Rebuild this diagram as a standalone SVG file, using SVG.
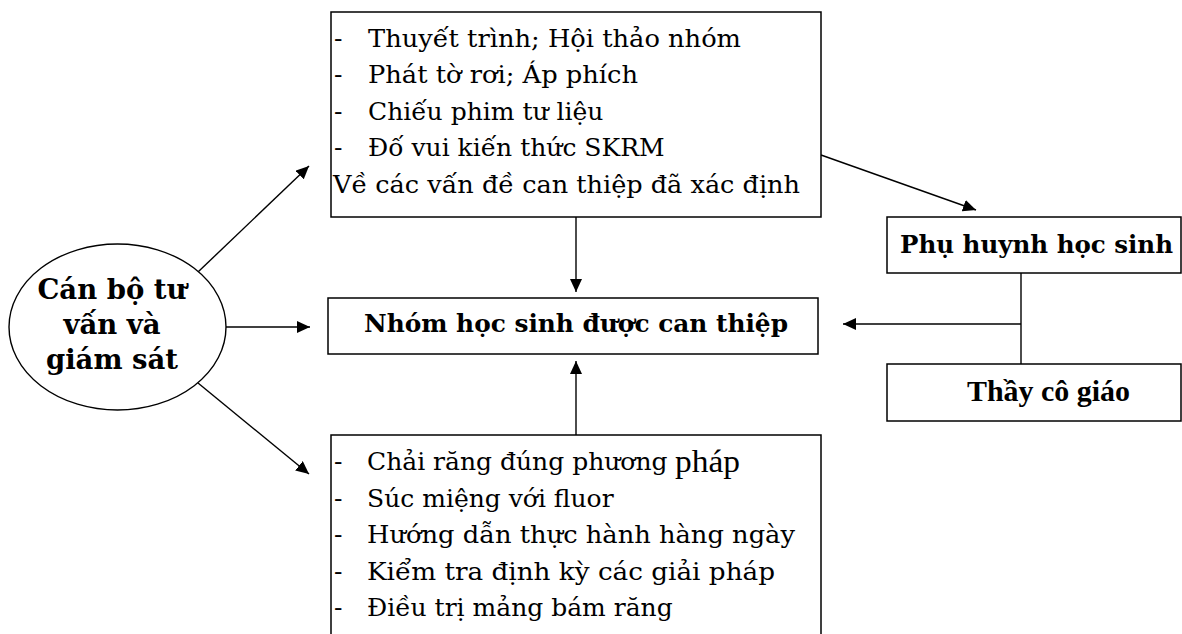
<svg xmlns="http://www.w3.org/2000/svg" width="1182" height="634" viewBox="0 0 1182 634">
<style>
.box{fill:#fff;stroke:#000;stroke-width:1.5}
.t{font-family:"DejaVu Serif","Liberation Serif",serif;font-size:25px;fill:#000}
.b{font-family:"DejaVu Serif","Liberation Serif",serif;font-size:24px;font-weight:bold;fill:#000}
.c{font-family:"Liberation Serif",serif;font-size:30px;font-weight:bold;fill:#000}
.p{font-family:"Liberation Serif",serif;font-size:32px;font-weight:normal;fill:#000}
.ln{fill:none;stroke:#000;stroke-width:1.4}
</style>
<defs>
<marker id="ah" markerUnits="userSpaceOnUse" markerWidth="14" markerHeight="12" refX="13" refY="6" orient="auto">
<path d="M0,0 L13,6 L0,12 z" fill="#000"/>
</marker>
</defs>
<rect width="1182" height="634" fill="#fff"/>
<g id="connectors">
<line class="ln" x1="198" y1="272" x2="309" y2="166" marker-end="url(#ah)"/>
<line class="ln" x1="226" y1="327" x2="310" y2="327" marker-end="url(#ah)"/>
<line class="ln" x1="198" y1="383" x2="309" y2="474" marker-end="url(#ah)"/>
<line class="ln" x1="576" y1="217" x2="576" y2="292" marker-end="url(#ah)"/>
<line class="ln" x1="576" y1="435" x2="576" y2="361" marker-end="url(#ah)"/>
<line class="ln" x1="821" y1="155" x2="976" y2="210" marker-end="url(#ah)"/>
<line class="ln" x1="1021" y1="273" x2="1021" y2="364"/>
<line class="ln" x1="1021" y1="324" x2="843" y2="324" marker-end="url(#ah)"/>
</g>
<g id="can-bo">
<ellipse cx="117.5" cy="327" rx="108.5" ry="83" fill="#fff" stroke="#000" stroke-width="1.4"/>
<text class="b" x="112" y="299" text-anchor="middle" style="font-size:27.5px">Cán bộ tư</text>
<text class="b" x="112" y="334" text-anchor="middle" style="font-size:27.5px">vấn và</text>
<text class="b" x="112" y="369" text-anchor="middle" style="font-size:27.5px">giám sát</text>
</g>
<g id="truyen-thong">
<rect class="box" x="331" y="12" width="490" height="205"/>
<text class="t" x="334" y="47">-</text>
<text class="t" x="368" y="47" textLength="373" lengthAdjust="spacingAndGlyphs">Thuyết trình; Hội thảo nhóm</text>
<text class="t" x="334" y="83">-</text>
<text class="t" x="368" y="83" textLength="270" lengthAdjust="spacingAndGlyphs">Phát tờ rơi; Áp phích</text>
<text class="t" x="334" y="119.5">-</text>
<text class="t" x="368" y="119.5">Chiếu phim tư liệu</text>
<text class="t" x="334" y="156">-</text>
<text class="t" x="368" y="156">Đố vui kiến thức SKRM</text>
<text class="t" x="333" y="192.5" textLength="467" lengthAdjust="spacingAndGlyphs">Về các vấn đề can thiệp đã xác định</text>
</g>
<g id="nhom-hoc-sinh">
<rect class="box" x="328" y="298" width="490" height="56"/>
<text class="b" x="364" y="332" textLength="424" lengthAdjust="spacingAndGlyphs">Nhóm học sinh được can thiệp</text>
</g>
<g id="phu-huynh">
<rect class="box" x="887" y="217" width="294" height="56"/>
<text class="b" x="900" y="253" textLength="273" lengthAdjust="spacingAndGlyphs">Phụ huynh học sinh</text>
</g>
<g id="thay-co">
<rect class="box" x="887" y="364" width="294" height="57"/>
<text class="c" x="967" y="401" textLength="163" lengthAdjust="spacingAndGlyphs">Thầy cô giáo</text>
</g>
<g id="thuc-hanh">
<rect class="box" x="331" y="435" width="490" height="215"/>
<text class="t" x="334" y="470">-</text>
<text class="t" x="367" y="470">Chải răng đúng phương</text>
<text class="p" x="675" y="472" textLength="65" lengthAdjust="spacingAndGlyphs">pháp</text>
<text class="t" x="334" y="506.5">-</text>
<text class="t" x="367" y="506.5">Súc miệng với fluor</text>
<text class="t" x="334" y="543">-</text>
<text class="t" x="367" y="543" textLength="428" lengthAdjust="spacingAndGlyphs">Hướng dẫn thực hành hàng ngày</text>
<text class="t" x="334" y="579.5">-</text>
<text class="t" x="367" y="579.5" textLength="408" lengthAdjust="spacingAndGlyphs">Kiểm tra định kỳ các giải pháp</text>
<text class="t" x="334" y="616">-</text>
<text class="t" x="367" y="616">Điều trị mảng bám răng</text>
</g>
</svg>
